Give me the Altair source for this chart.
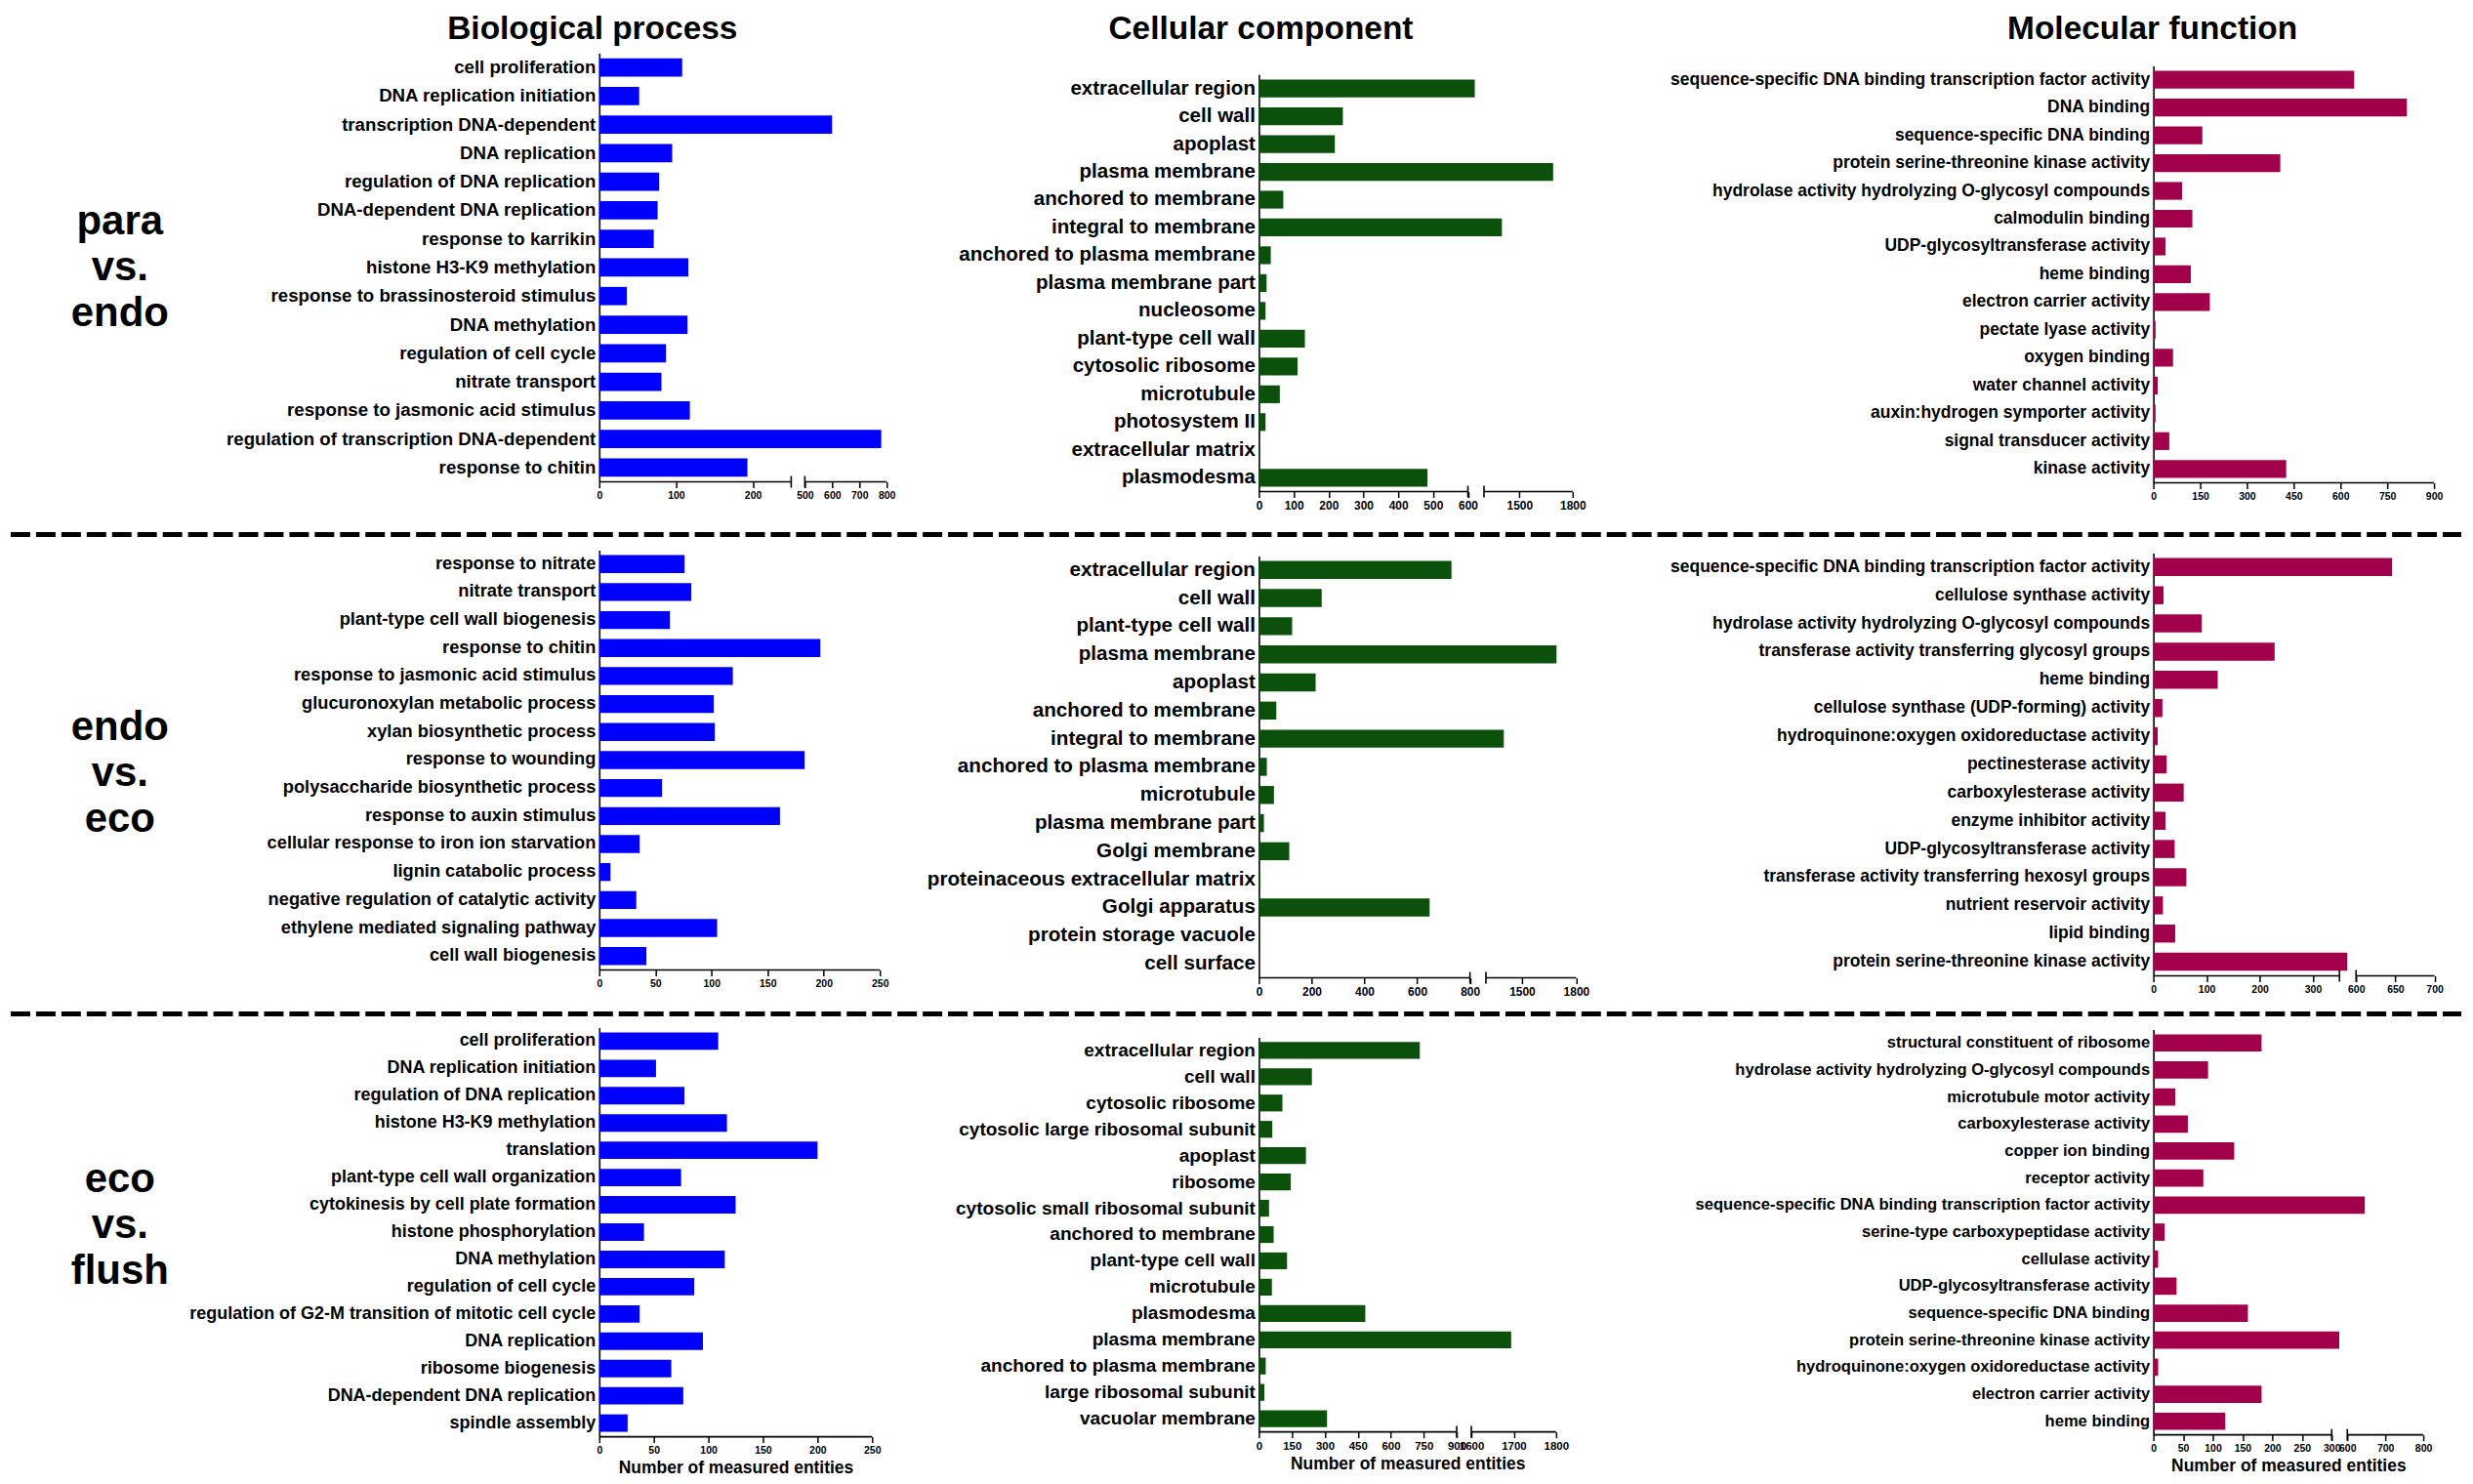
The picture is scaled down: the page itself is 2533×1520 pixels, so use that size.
import altair as alt
import pandas as pd

# ---------------- data ----------------
ROW_LABELS = [["para", "vs.", "endo"], ["endo", "vs.", "eco"], ["eco", "vs.", "flush"]]
COL_TITLES = ["Biological process", "Cellular component", "Molecular function"]
AXIS_TITLE = "Number of measured entities"

bp1_terms = ["cell proliferation", "DNA replication initiation", "transcription DNA-dependent",
             "DNA replication", "regulation of DNA replication", "DNA-dependent DNA replication",
             "response to karrikin", "histone H3-K9 methylation", "response to brassinosteroid stimulus",
             "DNA methylation", "regulation of cell cycle", "nitrate transport",
             "response to jasmonic acid stimulus", "regulation of transcription DNA-dependent",
             "response to chitin"]
bp1_counts = [108, 52, 600, 95, 78, 76, 71, 116, 36, 115, 87, 81, 118, 780, 193]

cc1_terms = ["extracellular region", "cell wall", "apoplast", "plasma membrane", "anchored to membrane",
             "integral to membrane", "anchored to plasma membrane", "plasma membrane part", "nucleosome",
             "plant-type cell wall", "cytosolic ribosome", "microtubule", "photosystem II",
             "extracellular matrix", "plasmodesma"]
cc1_counts = [900, 241, 218, 1690, 70, 1401, 34, 22, 19, 132, 111, 60, 19, 2, 484]

mf1_terms = ["sequence-specific DNA binding transcription factor activity", "DNA binding",
             "sequence-specific DNA binding", "protein serine-threonine kinase activity",
             "hydrolase activity hydrolyzing O-glycosyl compounds", "calmodulin binding",
             "UDP-glycosyltransferase activity", "heme binding", "electron carrier activity",
             "pectate lyase activity", "oxygen binding", "water channel activity",
             "auxin:hydrogen symporter activity", "signal transducer activity", "kinase activity"]
mf1_counts = [644, 813, 157, 407, 92, 125, 39, 120, 181, 7, 63, 14, 7, 51, 426]

bp2_terms = ["response to nitrate", "nitrate transport", "plant-type cell wall biogenesis",
             "response to chitin", "response to jasmonic acid stimulus", "glucuronoxylan metabolic process",
             "xylan biosynthetic process", "response to wounding", "polysaccharide biosynthetic process",
             "response to auxin stimulus", "cellular response to iron ion starvation",
             "lignin catabolic process", "negative regulation of catalytic activity",
             "ethylene mediated signaling pathway", "cell wall biogenesis"]
bp2_counts = [76, 82, 63, 197, 119, 102, 103, 183, 56, 161, 36, 10, 33, 105, 42]

cc2_terms = ["extracellular region", "cell wall", "plant-type cell wall", "plasma membrane", "apoplast",
             "anchored to membrane", "integral to membrane", "anchored to plasma membrane", "microtubule",
             "plasma membrane part", "Golgi membrane", "proteinaceous extracellular matrix",
             "Golgi apparatus", "protein storage vacuole", "cell surface"]
cc2_counts = [730, 238, 126, 1691, 215, 66, 1399, 30, 57, 19, 115, 5, 647, 1, 2]

mf2_terms = ["sequence-specific DNA binding transcription factor activity", "cellulose synthase activity",
             "hydrolase activity hydrolyzing O-glycosyl compounds",
             "transferase activity transferring glycosyl groups", "heme binding",
             "cellulose synthase (UDP-forming) activity", "hydroquinone:oxygen oxidoreductase activity",
             "pectinesterase activity", "carboxylesterase activity", "enzyme inhibitor activity",
             "UDP-glycosyltransferase activity", "transferase activity transferring hexosyl groups",
             "nutrient reservoir activity", "lipid binding", "protein serine-threonine kinase activity"]
mf2_counts = [646, 19, 91, 228, 121, 17, 8, 25, 57, 23, 40, 62, 18, 41, 468]

bp3_terms = ["cell proliferation", "DNA replication initiation", "regulation of DNA replication",
             "histone H3-K9 methylation", "translation", "plant-type cell wall organization",
             "cytokinesis by cell plate formation", "histone phosphorylation", "DNA methylation",
             "regulation of cell cycle", "regulation of G2-M transition of mitotic cell cycle",
             "DNA replication", "ribosome biogenesis", "DNA-dependent DNA replication", "spindle assembly"]
bp3_counts = [109, 52, 78, 117, 200, 75, 125, 41, 115, 87, 37, 95, 66, 77, 26]

cc3_terms = ["extracellular region", "cell wall", "cytosolic ribosome", "cytosolic large ribosomal subunit",
             "apoplast", "ribosome", "cytosolic small ribosomal subunit", "anchored to membrane",
             "plant-type cell wall", "microtubule", "plasmodesma", "plasma membrane",
             "anchored to plasma membrane", "large ribosomal subunit", "vacuolar membrane"]
cc3_counts = [732, 241, 107, 61, 214, 145, 46, 67, 128, 59, 484, 1694, 31, 25, 310]

mf3_terms = ["structural constituent of ribosome", "hydrolase activity hydrolyzing O-glycosyl compounds",
             "microtubule motor activity", "carboxylesterase activity", "copper ion binding",
             "receptor activity", "sequence-specific DNA binding transcription factor activity",
             "serine-type carboxypeptidase activity", "cellulase activity", "UDP-glycosyltransferase activity",
             "sequence-specific DNA binding", "protein serine-threonine kinase activity",
             "hydroquinone:oxygen oxidoreductase activity", "electron carrier activity", "heme binding"]
mf3_counts = [182, 92, 37, 58, 136, 84, 646, 19, 8, 39, 159, 445, 8, 182, 121]

# tick labels / broken-axis segments per panel
bp1_ticks = [0, 100, 200, 500, 600, 700, 800]
cc1_ticks = [0, 100, 200, 300, 400, 500, 600, 1500, 1800]
mf1_ticks = [0, 150, 300, 450, 600, 750, 900]
bp2_ticks = [0, 50, 100, 150, 200, 250]
cc2_ticks = [0, 200, 400, 600, 800, 1500, 1800]
mf2_ticks = [0, 100, 200, 300, 600, 650, 700]
bp3_ticks = [0, 50, 100, 150, 200, 250]
cc3_ticks = [0, 150, 300, 450, 600, 750, 900, 1600, 1700, 1800]
mf3_ticks = [0, 50, 100, 150, 200, 250, 300, 600, 700, 800]

bp1_segs = [(0, 250), (500, 800)]
cc1_segs = [(0, 600), (1300, 1800)]
mf1_segs = [(0, 900)]
bp2_segs = [(0, 250)]
cc2_segs = [(0, 800), (1300, 1800)]
mf2_segs = [(0, 350), (600, 700)]
bp3_segs = [(0, 250)]
cc3_segs = [(0, 900), (1600, 1800)]
mf3_segs = [(0, 300), (600, 800)]

# ---------------- style / layout ----------------
FONT = "Liberation Sans, Arial, Helvetica, sans-serif"
COLORS = ["#0000FF", "#0B500B", "#A3004C"]
COL_W = [604, 677, 918, 320]            # spacer, BP, CC, MF slot widths
ROW_H = [544, 491, 430]

# pixel extents of each panel's broken axis (range positions for the domain breakpoints)
LAYOUT = {
    "bp1": dict(rng=[0, 197, 211, 295], y=(45, 485), fs=10.5, lfs=18.7),
    "cc1": dict(rng=[0, 214.5, 231, 322], y=(67, 495), fs=12, lfs=20.6),
    "mf1": dict(rng=[0, 288], y=(58, 486), fs=10.5, lfs=17.5),
    "bp2": dict(rng=[0, 288], y=(11, 442), fs=10.5, lfs=18.3),
    "cc2": dict(rng=[0, 216.6, 233, 325.6], y=(17, 450), fs=12, lfs=20.7),
    "mf2": dict(rng=[0, 191, 208, 288.5], y=(14, 448), fs=10.5, lfs=17.5),
    "bp3": dict(rng=[0, 280], y=(10, 430), fs=10.5, lfs=18.0),
    "cc3": dict(rng=[0, 203, 218, 305], y=(20, 425), fs=11.5, lfs=19.1),
    "mf3": dict(rng=[0, 183, 199, 277], y=(12, 428), fs=10.5, lfs=16.6),
}
TITLE_DX = [-7, 2, -1]
TITLE_Y = 31
ROW_LABEL_Y = [218, 193, 166]
SEP_Y = [None, -5, -4]


def panel(key, terms, counts, ticks, segs, color, width, title=None, title_dx=0, xtitle=None):
    lay = LAYOUT[key]
    dom = []
    for lo, hi in segs:
        dom += [lo, hi]
    ytop, ybot = lay["y"]
    height = ybot
    xscale = alt.Scale(domain=dom, range=lay["rng"], nice=False, zero=False)
    yscale = alt.Scale(domain=terms, range=[ytop, ybot], paddingInner=0.36, paddingOuter=0.18)
    df = pd.DataFrame({"term": terms, "count": counts})
    xaxis_kw = dict(values=ticks, format="d", domain=False, grid=False, ticks=True, tickSize=6,
                    tickWidth=1.5, tickColor="black", labelFont=FONT, labelFontWeight="bold",
                    labelFontSize=lay["fs"], labelColor="black", labelPadding=3, labelOverlap=False,
                    labelFlush=False)
    if xtitle:
        xaxis_kw.update(title=xtitle, titleFont=FONT, titleFontSize=17.5, titleFontWeight="bold",
                        titleColor="black", titlePadding=3)
    else:
        xaxis_kw.update(title=None)
    bars = alt.Chart(df).mark_bar(color=color).encode(
        x=alt.X("count:Q", scale=xscale, axis=alt.Axis(**xaxis_kw)),
        y=alt.Y("term:N", sort=terms, scale=yscale,
                axis=alt.Axis(title=None, ticks=False, domain=True, domainColor="black", domainWidth=1.6,
                              labelFont=FONT, labelFontWeight="bold", labelFontSize=lay["lfs"],
                              labelColor="black", labelPadding=4, labelLimit=1000)),
    )
    seg_df = pd.DataFrame({"lo": [s[0] for s in segs], "hi": [s[1] for s in segs]})
    seg = alt.Chart(seg_df).mark_rule(color="black", strokeWidth=1.6).encode(
        x=alt.X("lo:Q", scale=xscale, axis=alt.Axis(**xaxis_kw)), x2="hi:Q", y=alt.value(height))
    layers = [bars, seg]
    if len(segs) > 1:
        caps = [segs[0][1], segs[1][0]]
        cap_df = pd.DataFrame({"v": caps})
        cap = alt.Chart(cap_df).mark_rule(color="black", strokeWidth=1.6).encode(
            x=alt.X("v:Q", scale=xscale, axis=alt.Axis(**xaxis_kw)),
            y=alt.value(height - 6), y2=alt.value(height + 6))
        layers.append(cap)
    if title:
        tdf = pd.DataFrame({"t": [title]})
        tl = alt.Chart(tdf).mark_text(font=FONT, fontSize=33.5, fontWeight="bold", color="black",
                                      align="center", baseline="alphabetic").encode(
            text="t:N", x=alt.value(title_dx), y=alt.value(TITLE_Y))
        layers.append(tl)
    return alt.layer(*layers).properties(width=width, height=height)


def spacer(r):
    base = alt.Chart(pd.DataFrame({"t": ["x"]}))
    lab = base.mark_text(text=ROW_LABELS[r], font=FONT, fontSize=42, fontWeight="bold", color="black",
                         align="center", baseline="middle", lineHeight=47).encode(
        x=alt.value(112), y=alt.value(ROW_LABEL_Y[r]))
    layers = [lab]
    if SEP_Y[r] is not None:
        sep = base.mark_rule(color="black", strokeWidth=5, strokeDash=[20, 6]).encode(
            x=alt.value(0), x2=alt.value(2515), y=alt.value(SEP_Y[r]))
        layers.append(sep)
    return alt.layer(*layers).properties(width=COL_W[0], height=ROW_H[r])


rows_data = [
    [("bp1", bp1_terms, bp1_counts, bp1_ticks, bp1_segs),
     ("cc1", cc1_terms, cc1_counts, cc1_ticks, cc1_segs),
     ("mf1", mf1_terms, mf1_counts, mf1_ticks, mf1_segs)],
    [("bp2", bp2_terms, bp2_counts, bp2_ticks, bp2_segs),
     ("cc2", cc2_terms, cc2_counts, cc2_ticks, cc2_segs),
     ("mf2", mf2_terms, mf2_counts, mf2_ticks, mf2_segs)],
    [("bp3", bp3_terms, bp3_counts, bp3_ticks, bp3_segs),
     ("cc3", cc3_terms, cc3_counts, cc3_ticks, cc3_segs),
     ("mf3", mf3_terms, mf3_counts, mf3_ticks, mf3_segs)],
]

cells = []
for r, row in enumerate(rows_data):
    cells.append(spacer(r))
    for c, (key, terms, counts, ticks, segs) in enumerate(row):
        cells.append(panel(key, terms, counts, ticks, segs, COLORS[c], COL_W[c + 1],
                           title=COL_TITLES[c] if r == 0 else None, title_dx=TITLE_DX[c],
                           xtitle=AXIS_TITLE if r == 2 else None))

chart = alt.concat(*cells, columns=4, spacing=0, bounds="flush").properties(
    padding=0, background="white"
).configure_view(stroke=None)

chart.save("out.html", embed_options={"renderer": "svg", "actions": False})
